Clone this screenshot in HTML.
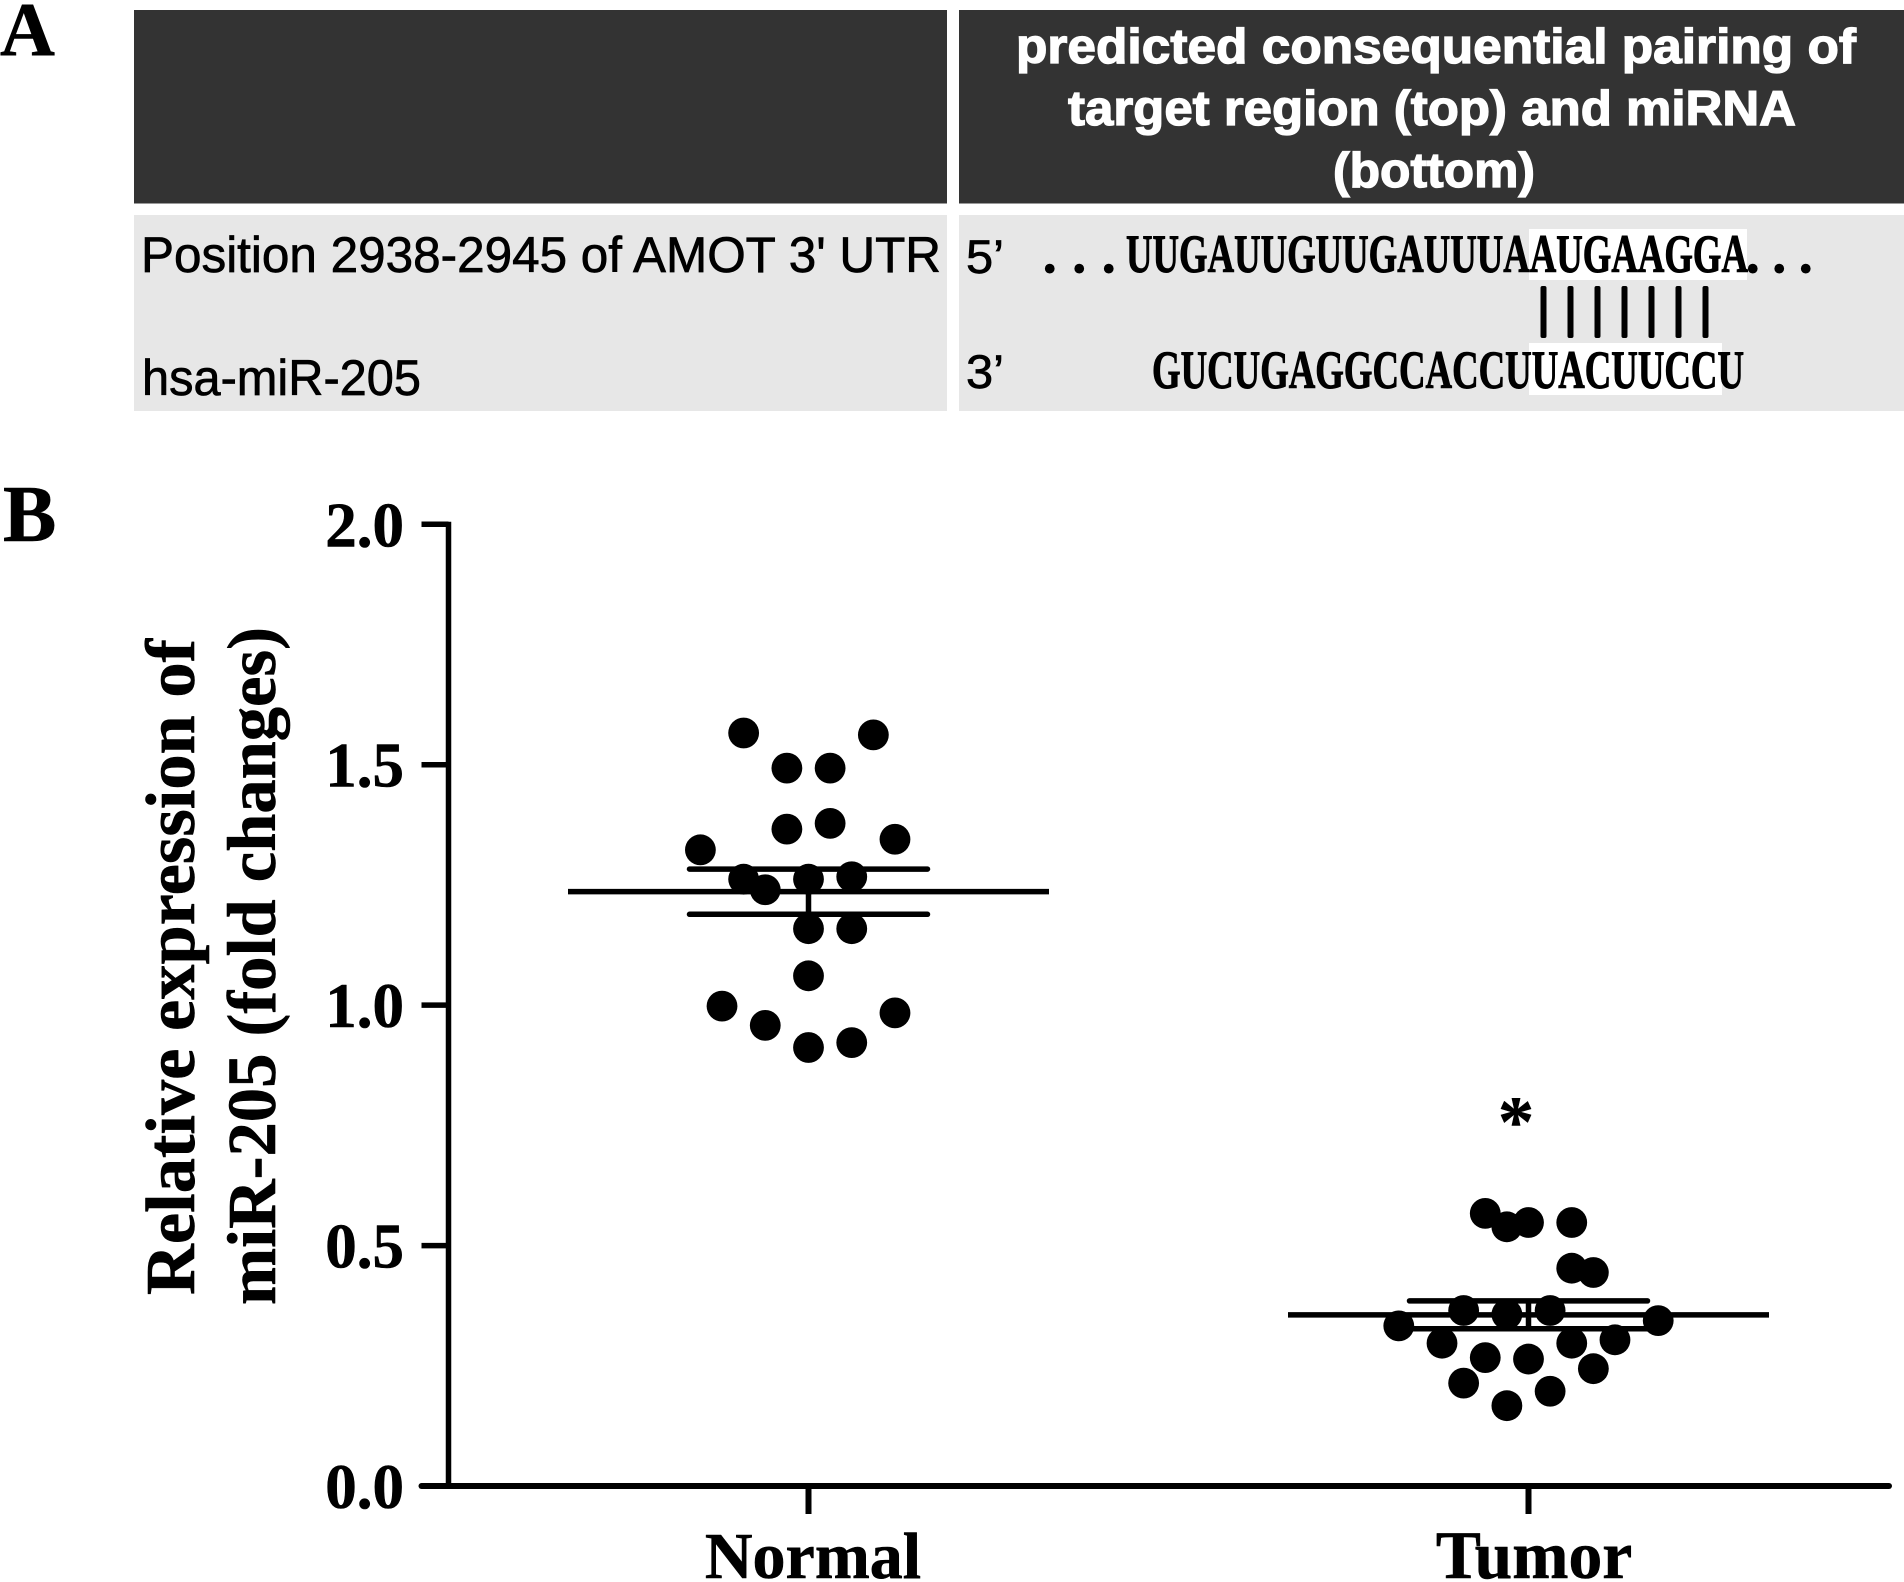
<!DOCTYPE html>
<html lang="en">
<head>
<meta charset="utf-8">
<title>miR-205 target pairing and expression</title>
<style>
  html, body { margin: 0; padding: 0; background: #fff; }
  svg { display: block; }
  .panel { font-family: "Liberation Serif", serif; font-weight: bold; fill: #000; }
  .sans { font-family: "Liberation Sans", sans-serif; }
  .seq { font-family: "Liberation Serif", serif; font-weight: bold; }
  .serif { font-family: "Liberation Serif", serif; font-weight: bold; }
</style>
</head>
<body>
<svg id="figure" xmlns="http://www.w3.org/2000/svg" width="1904" height="1582" viewBox="0 0 1904 1582">
  <rect x="0" y="0" width="1904" height="1582" fill="#fff"/>

  <text class="panel" x="0" y="55" font-size="76" stroke="#000" stroke-width="0.6">A</text>
  <text class="panel" x="3" y="541" font-size="80" stroke="#000" stroke-width="0.6">B</text>

  <g>
    <rect x="134" y="10" width="813" height="193.500" fill="#333"/>
    <rect x="959" y="10" width="945" height="193.500" fill="#333"/>
    <rect x="134" y="215" width="813" height="196" fill="#e7e7e7"/>
    <rect x="959" y="215" width="945" height="196" fill="#e7e7e7"/>

    <g class="sans" font-weight="bold" font-size="49" fill="#fff" stroke="#fff" stroke-width="1.300">
      <text x="1016" y="63" textLength="840" lengthAdjust="spacingAndGlyphs">predicted consequential pairing of</text>
      <text x="1068" y="125" textLength="728" lengthAdjust="spacingAndGlyphs">target region (top) and miRNA</text>
      <text x="1333" y="187" textLength="202" lengthAdjust="spacingAndGlyphs">(bottom)</text>
    </g>

    <g class="sans" font-size="50" fill="#000" stroke="#000" stroke-width="0.7">
      <text x="141" y="272" textLength="800" lengthAdjust="spacingAndGlyphs">Position 2938-2945 of AMOT 3' UTR</text>
      <text x="142" y="395" textLength="279" lengthAdjust="spacingAndGlyphs">hsa-miR-205</text>
      <text x="966" y="273" font-size="47" textLength="38" lengthAdjust="spacingAndGlyphs">5’</text>
      <text x="966" y="388" font-size="47" textLength="38" lengthAdjust="spacingAndGlyphs">3’</text>
    </g>

    <rect x="1529" y="229" width="218" height="51" fill="#fff"/>
    <rect x="1529" y="343" width="193" height="52" fill="#fff"/>

    <g class="seq" font-size="54" fill="#000" stroke="#000" stroke-width="1">
      <text x="1043" y="272" textLength="72.500" lengthAdjust="spacing">...</text>
      <text x="1126" y="272" textLength="622" lengthAdjust="spacingAndGlyphs">UUGAUUGUUGAUUUAAUGAAGGA</text>
      <text x="1746" y="272" textLength="66.500" lengthAdjust="spacing">...</text>
      <text x="1152" y="388" textLength="592" lengthAdjust="spacingAndGlyphs">GUCUGAGGCCACCUUACUUCCU</text>
    </g>

    <g fill="#000">
      <rect x="1540.500" y="286" width="6" height="52" rx="2"/>
      <rect x="1567.500" y="286" width="6" height="52" rx="2"/>
      <rect x="1594.500" y="286" width="6" height="52" rx="2"/>
      <rect x="1621.500" y="286" width="6" height="52" rx="2"/>
      <rect x="1648.500" y="286" width="6" height="52" rx="2"/>
      <rect x="1675.500" y="286" width="6" height="52" rx="2"/>
      <rect x="1702.500" y="286" width="6" height="52" rx="2"/>
    </g>
  </g>

  <g id="chart" stroke-linejoin="round">
    <g class="serif" fill="#000" stroke="#000" stroke-width="0.6">
      <text transform="translate(194 1295) rotate(-90)" font-size="70" textLength="656" lengthAdjust="spacingAndGlyphs">Relative expression of</text>
      <text transform="translate(275 1305) rotate(-90)" font-size="69" textLength="678" lengthAdjust="spacingAndGlyphs">miR-205 (fold changes)</text>
      <text x="1516" y="1146" font-size="72" text-anchor="middle">*</text>
    </g>
  </g>
</svg>

<script>
// Chart data
const categories = ["Normal", "Tumor"];
const yTicks = [0, 0.5, 1, 1.5, 2];
const yTickLabels = ["0.0", "0.5", "1.0", "1.5", "2.0"];
const normalValues = [1.566, 1.562, 1.493, 1.493, 1.366, 1.378, 1.345, 1.323, 1.262, 1.240, 1.262, 1.267, 1.159, 1.159, 1.061, 0.998, 0.958, 0.984, 0.912, 0.922];
const normalSlots = [-3, 3, -1, 1, -1, 1, 4, -5, -3, -2, 0, 2, 0, 2, 0, -4, -2, 4, 0, 2];
const tumorValues = [0.567, 0.539, 0.548, 0.548, 0.453, 0.444, 0.365, 0.357, 0.365, 0.333, 0.344, 0.297, 0.297, 0.304, 0.267, 0.264, 0.244, 0.214, 0.197, 0.167];
const tumorSlots = [-2, -1, 0, 2, 2, 3, -3, -1, 1, -6, 6, -4, 2, 4, -2, 0, 3, -3, 1, -1];
const means = [1.236, 0.356];
const errors = [0.047, 0.029];

// Axis functions
const Y_ZERO = 1486, Y_UNIT = 480.85;
const X_FIRST = 808.5, X_STEP = 720, SLOT_WIDTH = 21.62;
const yScale = function (v) { return Y_ZERO - v * Y_UNIT; };
const xScale = function (i) { return X_FIRST + i * X_STEP; };
const slotX = function (i, s) { return xScale(i) + s * SLOT_WIDTH; };

const NS = "http://www.w3.org/2000/svg";
const chart = document.getElementById("chart");

function makeLine(x1, y1, x2, y2, w, cap) {
  const l = document.createElementNS(NS, "line");
  l.setAttribute("x1", x1);
  l.setAttribute("y1", y1);
  l.setAttribute("x2", x2);
  l.setAttribute("y2", y2);
  l.setAttribute("stroke", "#000");
  l.setAttribute("stroke-width", w);
  l.setAttribute("stroke-linecap", cap || "butt");
  chart.appendChild(l);
  return l;
}
function makeText(str, x, y, size, anchor) {
  const t = document.createElementNS(NS, "text");
  t.setAttribute("x", x);
  t.setAttribute("y", y);
  t.setAttribute("font-size", size);
  t.setAttribute("text-anchor", anchor);
  t.setAttribute("font-family", '"Liberation Serif", serif');
  t.setAttribute("font-weight", "bold");
  t.setAttribute("stroke", "#000");
  t.setAttribute("stroke-width", "0.6");
  t.textContent = str;
  chart.appendChild(t);
  return t;
}

// Y axis
const yAxisLine = makeLine(448.5, yScale(2) - 2.5, 448.5, Y_ZERO + 3, 5.5);



yTicks.forEach(function (v, i) {
  const tick = makeLine(421.5, yScale(v), 448.5, yScale(v), 5.5);
  
  
  const label = makeText(yTickLabels[i], 404, yScale(v) + 22, 63, "end");
  
  
});

// X axis
const xAxisLine = makeLine(421.5, Y_ZERO, 1889, Y_ZERO, 6, "round");



categories.forEach(function (name, i) {
  const tick = makeLine(xScale(i), Y_ZERO, xScale(i), 1514, 6);
  
  
  const label = makeText(name, xScale(i) + (i === 0 ? 4.500 : 5.500), 1578, i === 0 ? 66 : 67.5, "middle");
  
  
});

// Scatter points
function drawPoints(values, slots, catIndex) {
  values.forEach(function (v, k) {
    const c = document.createElementNS(NS, "circle");
    c.setAttribute("cx", slotX(catIndex, slots[k]));
    c.setAttribute("cy", yScale(v));
    c.setAttribute("r", 15.4);
    c.setAttribute("fill", "#000");
    
    
    chart.appendChild(c);
  });
}
drawPoints(normalValues, normalSlots, 0);
drawPoints(tumorValues, tumorSlots, 1);

// Mean and error bars
means.forEach(function (m, i) {
  const cx = xScale(i);
  const meanLine = makeLine(cx - 240.500, yScale(m), cx + 240.500, yScale(m), 5.5);
  
  
  const stem = makeLine(cx, yScale(m + errors[i]), cx, yScale(m - errors[i]), 5.5);
  
  
  const capTop = makeLine(cx - 119, yScale(m + errors[i]), cx + 119, yScale(m + errors[i]), 5.5, "round");
  
  
  const capBottom = makeLine(cx - 119, yScale(m - errors[i]), cx + 119, yScale(m - errors[i]), 5.5, "round");
  
  
});
</script>
</body>
</html>
